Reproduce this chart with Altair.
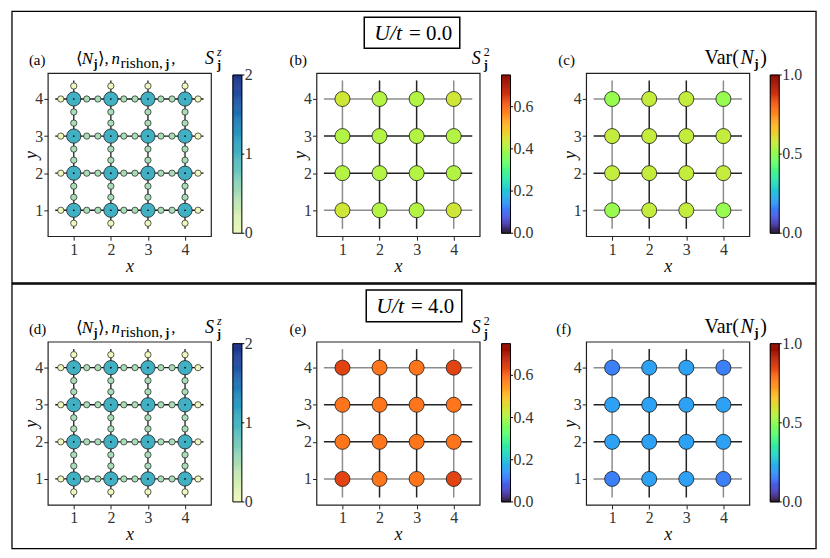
import altair as alt
import numpy as np
import pandas as pd

# ---------------- data ----------------
lattice = [1, 2, 3, 4]

# site values, rows are y = 1..4, columns are x = 1..4
N_site_U0 = [[1.04, 1.04, 1.04, 1.04],
             [1.04, 1.04, 1.04, 1.04],
             [1.04, 1.04, 1.04, 1.04],
             [1.04, 1.04, 1.04, 1.04]]
N_site_U4 = [[1.04, 1.04, 1.04, 1.04],
             [1.04, 1.04, 1.04, 1.04],
             [1.04, 1.04, 1.04, 1.04],
             [1.04, 1.04, 1.04, 1.04]]
# rishon occupation: [interior links, open boundary]
rishon_U0 = [0.50, 0.02]
rishon_U4 = [0.50, 0.02]

S2_U0 = [[0.44, 0.41, 0.41, 0.44],
         [0.41, 0.41, 0.41, 0.41],
         [0.41, 0.41, 0.41, 0.41],
         [0.44, 0.41, 0.41, 0.44]]
Var_U0 = [[0.51, 0.57, 0.57, 0.51],
          [0.57, 0.57, 0.57, 0.57],
          [0.57, 0.57, 0.57, 0.57],
          [0.51, 0.57, 0.57, 0.51]]
S2_U4 = [[0.64, 0.585, 0.585, 0.64],
         [0.585, 0.585, 0.585, 0.585],
         [0.585, 0.585, 0.585, 0.585],
         [0.64, 0.585, 0.585, 0.64]]
Var_U4 = [[0.16, 0.21, 0.21, 0.16],
          [0.21, 0.21, 0.21, 0.21],
          [0.21, 0.21, 0.21, 0.21],
          [0.16, 0.21, 0.21, 0.16]]

cbar_N_ticks = [0, 1, 2]
cbar_N_labels = ["0", "1", "2"]
cbar_S2_ticks = [0.0, 0.2, 0.4, 0.6]
cbar_S2_labels = ["0.0", "0.2", "0.4", "0.6"]
cbar_var_ticks = [0.0, 0.5, 1.0]
cbar_var_labels = ["0.0", "0.5", "1.0"]

# ---------------- helpers ----------------
SERIF = "Liberation Serif"
OFF = 0.35
dummy = pd.DataFrame({"d": [0]})

XSC = alt.Scale(domain=[0.3, 4.7], nice=False, zero=False)
YSC = alt.Scale(domain=[0.3, 4.7], nice=False, zero=False)


def Xenc():
    return alt.X("x:Q", scale=XSC,
                 axis=alt.Axis(values=lattice, title="x", format="d", titlePadding=0))


def Yenc():
    return alt.Y("y:Q", scale=YSC,
                 axis=alt.Axis(values=lattice, title="y", format="d",
                               titleX=-16, titleY=82, titleAngle=270,
                               titleBaseline="middle", titleAlign="center"))


def site_df(vals):
    return pd.DataFrame([{"x": lattice[i], "y": lattice[j], "v": vals[j][i]}
                         for j in range(4) for i in range(4)])


def rishon_df(vals):
    rows = []
    lo, hi = min(lattice), max(lattice)
    for y in lattice:
        for x in lattice:
            for dx, dy in [(OFF, 0), (-OFF, 0), (0, OFF), (0, -OFF)]:
                px, py = x + dx, y + dy
                edge = px < lo or px > hi or py < lo or py > hi
                rows.append({"x": px, "y": py, "v": vals[1] if edge else vals[0]})
    return pd.DataFrame(rows)


def bond_df():
    rows = []
    for k in lattice:
        kind = "outer" if k in (lattice[0], lattice[-1]) else "inner"
        rows.append({"x": 0.5, "xe": 4.5, "y": k, "ye": k, "kind": kind})
        rows.append({"x": k, "xe": k, "y": 0.5, "ye": 4.5, "kind": kind})
    return pd.DataFrame(rows)


def txt(s, x, y, size=17, italic=False, bold=False, align="left"):
    return alt.Chart(dummy).mark_text(
        text=s, font=SERIF, fontSize=size,
        fontStyle="italic" if italic else "normal",
        fontWeight="bold" if bold else "normal",
        align=align, baseline="alphabetic", color="black",
    ).encode(x=alt.value(x), y=alt.value(y))


def box(x0, x1, y0, y1, sw):
    return alt.Chart(dummy).mark_rect(filled=False, stroke="black", strokeWidth=sw).encode(
        x=alt.value(x0), x2=alt.value(x1), y=alt.value(y0), y2=alt.value(y1))


def bonds(uniform):
    base = alt.Chart(bond_df()).encode(x=Xenc(), x2="xe:Q", y=Yenc(), y2="ye:Q")
    if uniform:
        return [base.mark_rule(color="#1e1e1e", strokeWidth=1.3)]
    return [
        base.transform_filter(alt.datum.kind == "outer").mark_rule(color="#8c8c8c", strokeWidth=1.5),
        base.transform_filter(alt.datum.kind == "inner").mark_rule(color="#232323", strokeWidth=1.5),
    ]


def panel(site_vals, cscale, extra, rishons=None):
    layers = bonds(rishons is not None)
    if rishons is not None:
        layers.append(alt.Chart(rishon_df(rishons)).mark_circle(
            size=40, opacity=1, stroke="#1a1a1a", strokeWidth=0.7).encode(
            x=Xenc(), y=Yenc(), color=alt.Color("v:Q", scale=cscale, legend=None)))
        size = 205
    else:
        size = 228
    layers.append(alt.Chart(site_df(site_vals)).mark_circle(
        size=size, opacity=1, stroke="#1a1a1a", strokeWidth=0.8).encode(
        x=Xenc(), y=Yenc(), color=alt.Color("v:Q", scale=cscale, legend=None)))
    if rishons is not None:
        layers.append(alt.Chart(site_df(site_vals)).mark_circle(
            size=3, opacity=1, color="black").encode(x=Xenc(), y=Yenc()))
    layers += extra
    return alt.layer(*layers).properties(
        width=164, height=164,
        view=alt.ViewBackground(stroke="#222222", strokeWidth=1.2))


def cbar(scheme, vmax, ticks, labels, width, x0=22):
    n = 150
    edges = np.linspace(0, vmax, n + 1)
    g = pd.DataFrame({"lo": edges[:-1], "hi": edges[1:]})
    g["mid"] = (g["lo"] + g["hi"]) / 2
    ys = alt.Scale(domain=[0, vmax], range=[161, 2], nice=False, zero=False)
    cs = alt.Scale(scheme=scheme, domain=[0, vmax])
    grad = alt.Chart(g).mark_rect(strokeWidth=0.6).encode(
        x=alt.value(x0), x2=alt.value(x0 + 9),
        y=alt.Y("lo:Q", scale=ys, axis=None), y2="hi:Q",
        color=alt.Color("mid:Q", scale=cs, legend=None),
        stroke=alt.Stroke("mid:Q", scale=cs, legend=None))
    border = alt.Chart(pd.DataFrame({"lo": [0.0], "hi": [vmax]})).mark_rect(
        filled=False, stroke="black", strokeWidth=1).encode(
        x=alt.value(x0), x2=alt.value(x0 + 9),
        y=alt.Y("lo:Q", scale=ys, axis=None), y2="hi:Q")
    tk = pd.DataFrame({"lo": ticks, "lab": labels})
    tmarks = alt.Chart(tk).mark_rule(color="black", strokeWidth=1).encode(
        x=alt.value(x0 + 9), x2=alt.value(x0 + 11.5),
        y=alt.Y("lo:Q", scale=ys, axis=None))
    tlabels = alt.Chart(tk).mark_text(
        align="left", baseline="middle", font=SERIF, fontSize=16, color="#333").encode(
        x=alt.value(x0 + 12), y=alt.Y("lo:Q", scale=ys, axis=None), text="lab:N")
    return alt.layer(grad, border, tmarks, tlabels).properties(width=width, height=164)


N_SCALE = alt.Scale(scheme="yellowgreenblue", domain=[0, 2])
S2_SCALE = alt.Scale(scheme="turbo", domain=[0, 0.75])
VAR_SCALE = alt.Scale(scheme="turbo", domain=[0, 1])


def title_N(tag, tx):
    return [
        txt(tag, tx, -8, 15),
        txt("⟨", 28, -9, 17),
        txt("N", 34, -9, 17, italic=True),
        txt("j", 46, -5, 12, bold=True),
        txt("⟩,", 50, -9, 17),
        txt("n", 64, -9, 17, italic=True),
        txt("rishon,", 73, -5, 15.5),
        txt("j", 118, -5, 12, bold=True),
        txt(",", 124, -9, 17),
        txt("S", 158, -9, 18, italic=True),
        txt("j", 170, -4, 12, bold=True),
        txt("z", 170, -17, 12, italic=True),
    ]


def title_S2(tag, tx):
    return [
        txt(tag, tx, -8, 15),
        txt("S", 156, -9, 18, italic=True),
        txt("j", 168, -4, 12, bold=True),
        txt("2", 168, -17, 12),
    ]


def title_var(tag, tx):
    return [
        txt(tag, tx, -8, 15),
        txt("Var(", 119, -9, 20),
        txt("N", 155, -9, 20, italic=True),
        txt("j", 169, -5, 13, bold=True),
        txt(")", 175, -9, 20),
    ]


decor_top = [
    box(-36, 772, -62, 211, 1.3),
    box(318, 414, -56, -25, 1.5),
    txt("U/t", 328, -33, 22, italic=True),
    txt("= 0.0", 363, -33, 21),
]
decor_bot = [
    box(-36, 772, -58, 208, 1.3),
    box(320, 416, -52, -20, 1.5),
    txt("U/t", 330, -29, 22, italic=True),
    txt("= 4.0", 365, -29, 21),
]

cells = [
    panel(N_site_U0, N_SCALE, title_N("(a)", -19) + decor_top, rishons=rishon_U0),
    cbar("yellowgreenblue", 2.0, cbar_N_ticks, cbar_N_labels, 106),
    panel(S2_U0, S2_SCALE, title_S2("(b)", -27)),
    cbar("turbo", 0.75, cbar_S2_ticks, cbar_S2_labels, 107),
    panel(Var_U0, VAR_SCALE, title_var("(c)", -28)),
    cbar("turbo", 1.0, cbar_var_ticks, cbar_var_labels, 40, x0=21),
    panel(N_site_U4, N_SCALE, title_N("(d)", -19) + decor_bot, rishons=rishon_U4),
    cbar("yellowgreenblue", 2.0, cbar_N_ticks, cbar_N_labels, 106),
    panel(S2_U4, S2_SCALE, title_S2("(e)", -27)),
    cbar("turbo", 0.75, cbar_S2_ticks, cbar_S2_labels, 107),
    panel(Var_U4, VAR_SCALE, title_var("(f)", -30)),
    cbar("turbo", 1.0, cbar_var_ticks, cbar_var_labels, 40, x0=21),
]

chart = alt.ConcatChart(
    concat=cells, columns=6, spacing={"row": 106, "column": 0},
    bounds="flush", align="each",
).resolve_scale(
    color="independent", x="independent", y="independent", stroke="independent"
).properties(
    padding={"left": 2, "top": 0, "right": 4, "bottom": 4}, background="white"
).configure_view(
    stroke="transparent"
).configure_axis(
    domain=False, grid=False, ticks=True, tickSize=4, tickColor="#222", tickWidth=1,
    labelFont=SERIF, labelFontSize=16, labelColor="#333", labelPadding=1,
    titleFont=SERIF, titleFontSize=18, titleFontStyle="italic", titleFontWeight="normal",
    titleColor="#111",
)

chart.save("out.html", embed_options={"renderer": "svg", "actions": False})
